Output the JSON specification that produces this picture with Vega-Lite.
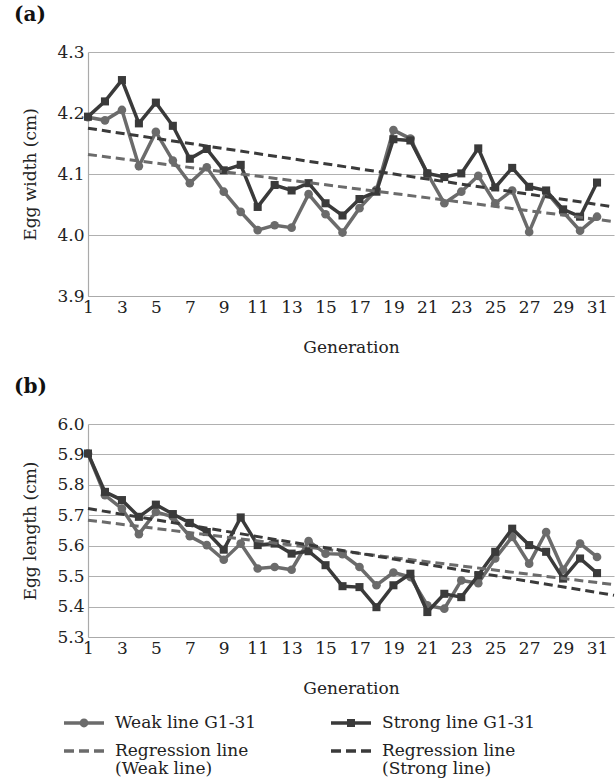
{
  "$schema": "https://vega.github.io/schema/vega-lite/v6.json",
  "background": "white",
  "padding": {"left": 13, "right": 2, "top": 5, "bottom": 2},
  "config": {
    "font": "DejaVu Serif",
    "view": {"stroke": null},
    "axis": {"labelFont": "DejaVu Serif", "titleFont": "DejaVu Serif", "labelFontSize": 17, "titleFontSize": 17, "labelColor": "#222", "titleColor": "#222", "titleFontWeight": "normal", "ticks": false, "domainColor": "#aaaaaa", "gridColor": "#b0b0b0", "domainWidth": 1.2, "gridWidth": 1.2},
    "title": {"font": "DejaVu Serif", "fontSize": 20, "fontWeight": "bold", "anchor": "start", "color": "#111"},
    "legend": {"labelFont": "DejaVu Serif", "labelFontSize": 17, "labelColor": "#222"}
  },
  "datasets": {
    "d": [
      {"p":"a","s":"Strong line G1-31","g":1,"v":4.194},{"p":"a","s":"Strong line G1-31","g":2,"v":4.219},{"p":"a","s":"Strong line G1-31","g":3,"v":4.254},{"p":"a","s":"Strong line G1-31","g":4,"v":4.183},{"p":"a","s":"Strong line G1-31","g":5,"v":4.217},{"p":"a","s":"Strong line G1-31","g":6,"v":4.179},{"p":"a","s":"Strong line G1-31","g":7,"v":4.125},{"p":"a","s":"Strong line G1-31","g":8,"v":4.141},{"p":"a","s":"Strong line G1-31","g":9,"v":4.106},{"p":"a","s":"Strong line G1-31","g":10,"v":4.115},{"p":"a","s":"Strong line G1-31","g":11,"v":4.046},{"p":"a","s":"Strong line G1-31","g":12,"v":4.082},{"p":"a","s":"Strong line G1-31","g":13,"v":4.073},{"p":"a","s":"Strong line G1-31","g":14,"v":4.085},{"p":"a","s":"Strong line G1-31","g":15,"v":4.052},{"p":"a","s":"Strong line G1-31","g":16,"v":4.032},{"p":"a","s":"Strong line G1-31","g":17,"v":4.059},{"p":"a","s":"Strong line G1-31","g":18,"v":4.071},{"p":"a","s":"Strong line G1-31","g":19,"v":4.157},{"p":"a","s":"Strong line G1-31","g":20,"v":4.155},{"p":"a","s":"Strong line G1-31","g":21,"v":4.101},{"p":"a","s":"Strong line G1-31","g":22,"v":4.095},{"p":"a","s":"Strong line G1-31","g":23,"v":4.101},{"p":"a","s":"Strong line G1-31","g":24,"v":4.142},{"p":"a","s":"Strong line G1-31","g":25,"v":4.078},{"p":"a","s":"Strong line G1-31","g":26,"v":4.110},{"p":"a","s":"Strong line G1-31","g":27,"v":4.079},{"p":"a","s":"Strong line G1-31","g":28,"v":4.073},{"p":"a","s":"Strong line G1-31","g":29,"v":4.042},{"p":"a","s":"Strong line G1-31","g":30,"v":4.030},{"p":"a","s":"Strong line G1-31","g":31,"v":4.086},
      {"p":"a","s":"Weak line G1-31","g":1,"v":4.193},{"p":"a","s":"Weak line G1-31","g":2,"v":4.188},{"p":"a","s":"Weak line G1-31","g":3,"v":4.205},{"p":"a","s":"Weak line G1-31","g":4,"v":4.113},{"p":"a","s":"Weak line G1-31","g":5,"v":4.169},{"p":"a","s":"Weak line G1-31","g":6,"v":4.122},{"p":"a","s":"Weak line G1-31","g":7,"v":4.085},{"p":"a","s":"Weak line G1-31","g":8,"v":4.111},{"p":"a","s":"Weak line G1-31","g":9,"v":4.071},{"p":"a","s":"Weak line G1-31","g":10,"v":4.038},{"p":"a","s":"Weak line G1-31","g":11,"v":4.008},{"p":"a","s":"Weak line G1-31","g":12,"v":4.016},{"p":"a","s":"Weak line G1-31","g":13,"v":4.012},{"p":"a","s":"Weak line G1-31","g":14,"v":4.067},{"p":"a","s":"Weak line G1-31","g":15,"v":4.034},{"p":"a","s":"Weak line G1-31","g":16,"v":4.004},{"p":"a","s":"Weak line G1-31","g":17,"v":4.044},{"p":"a","s":"Weak line G1-31","g":18,"v":4.074},{"p":"a","s":"Weak line G1-31","g":19,"v":4.172},{"p":"a","s":"Weak line G1-31","g":20,"v":4.158},{"p":"a","s":"Weak line G1-31","g":21,"v":4.101},{"p":"a","s":"Weak line G1-31","g":22,"v":4.052},{"p":"a","s":"Weak line G1-31","g":23,"v":4.071},{"p":"a","s":"Weak line G1-31","g":24,"v":4.097},{"p":"a","s":"Weak line G1-31","g":25,"v":4.052},{"p":"a","s":"Weak line G1-31","g":26,"v":4.073},{"p":"a","s":"Weak line G1-31","g":27,"v":4.005},{"p":"a","s":"Weak line G1-31","g":28,"v":4.071},{"p":"a","s":"Weak line G1-31","g":29,"v":4.038},{"p":"a","s":"Weak line G1-31","g":30,"v":4.007},{"p":"a","s":"Weak line G1-31","g":31,"v":4.030},
      {"p":"a","s":"Regression line (Weak line)","g":1,"v":4.132},{"p":"a","s":"Regression line (Weak line)","g":32,"v":4.022},
      {"p":"a","s":"Regression line (Strong line)","g":1,"v":4.175},{"p":"a","s":"Regression line (Strong line)","g":32,"v":4.046},
      {"p":"b","s":"Strong line G1-31","g":1,"v":5.903},{"p":"b","s":"Strong line G1-31","g":2,"v":5.777},{"p":"b","s":"Strong line G1-31","g":3,"v":5.750},{"p":"b","s":"Strong line G1-31","g":4,"v":5.695},{"p":"b","s":"Strong line G1-31","g":5,"v":5.735},{"p":"b","s":"Strong line G1-31","g":6,"v":5.704},{"p":"b","s":"Strong line G1-31","g":7,"v":5.675},{"p":"b","s":"Strong line G1-31","g":8,"v":5.645},{"p":"b","s":"Strong line G1-31","g":9,"v":5.587},{"p":"b","s":"Strong line G1-31","g":10,"v":5.693},{"p":"b","s":"Strong line G1-31","g":11,"v":5.602},{"p":"b","s":"Strong line G1-31","g":12,"v":5.607},{"p":"b","s":"Strong line G1-31","g":13,"v":5.574},{"p":"b","s":"Strong line G1-31","g":14,"v":5.582},{"p":"b","s":"Strong line G1-31","g":15,"v":5.536},{"p":"b","s":"Strong line G1-31","g":16,"v":5.467},{"p":"b","s":"Strong line G1-31","g":17,"v":5.464},{"p":"b","s":"Strong line G1-31","g":18,"v":5.398},{"p":"b","s":"Strong line G1-31","g":19,"v":5.470},{"p":"b","s":"Strong line G1-31","g":20,"v":5.508},{"p":"b","s":"Strong line G1-31","g":21,"v":5.382},{"p":"b","s":"Strong line G1-31","g":22,"v":5.442},{"p":"b","s":"Strong line G1-31","g":23,"v":5.431},{"p":"b","s":"Strong line G1-31","g":24,"v":5.503},{"p":"b","s":"Strong line G1-31","g":25,"v":5.580},{"p":"b","s":"Strong line G1-31","g":26,"v":5.656},{"p":"b","s":"Strong line G1-31","g":27,"v":5.602},{"p":"b","s":"Strong line G1-31","g":28,"v":5.580},{"p":"b","s":"Strong line G1-31","g":29,"v":5.492},{"p":"b","s":"Strong line G1-31","g":30,"v":5.558},{"p":"b","s":"Strong line G1-31","g":31,"v":5.510},
      {"p":"b","s":"Weak line G1-31","g":1,"v":5.903},{"p":"b","s":"Weak line G1-31","g":2,"v":5.766},{"p":"b","s":"Weak line G1-31","g":3,"v":5.722},{"p":"b","s":"Weak line G1-31","g":4,"v":5.638},{"p":"b","s":"Weak line G1-31","g":5,"v":5.711},{"p":"b","s":"Weak line G1-31","g":6,"v":5.695},{"p":"b","s":"Weak line G1-31","g":7,"v":5.631},{"p":"b","s":"Weak line G1-31","g":8,"v":5.602},{"p":"b","s":"Weak line G1-31","g":9,"v":5.554},{"p":"b","s":"Weak line G1-31","g":10,"v":5.607},{"p":"b","s":"Weak line G1-31","g":11,"v":5.525},{"p":"b","s":"Weak line G1-31","g":12,"v":5.530},{"p":"b","s":"Weak line G1-31","g":13,"v":5.521},{"p":"b","s":"Weak line G1-31","g":14,"v":5.615},{"p":"b","s":"Weak line G1-31","g":15,"v":5.574},{"p":"b","s":"Weak line G1-31","g":16,"v":5.572},{"p":"b","s":"Weak line G1-31","g":17,"v":5.530},{"p":"b","s":"Weak line G1-31","g":18,"v":5.470},{"p":"b","s":"Weak line G1-31","g":19,"v":5.512},{"p":"b","s":"Weak line G1-31","g":20,"v":5.497},{"p":"b","s":"Weak line G1-31","g":21,"v":5.404},{"p":"b","s":"Weak line G1-31","g":22,"v":5.393},{"p":"b","s":"Weak line G1-31","g":23,"v":5.486},{"p":"b","s":"Weak line G1-31","g":24,"v":5.477},{"p":"b","s":"Weak line G1-31","g":25,"v":5.558},{"p":"b","s":"Weak line G1-31","g":26,"v":5.629},{"p":"b","s":"Weak line G1-31","g":27,"v":5.541},{"p":"b","s":"Weak line G1-31","g":28,"v":5.645},{"p":"b","s":"Weak line G1-31","g":29,"v":5.521},{"p":"b","s":"Weak line G1-31","g":30,"v":5.607},{"p":"b","s":"Weak line G1-31","g":31,"v":5.563},
      {"p":"b","s":"Regression line (Weak line)","g":1,"v":5.684},{"p":"b","s":"Regression line (Weak line)","g":32,"v":5.472},
      {"p":"b","s":"Regression line (Strong line)","g":1,"v":5.722},{"p":"b","s":"Regression line (Strong line)","g":32,"v":5.437}
    ]
  },
  "spacing": 22,
  "vconcat": [
    {
      "title": {"text": "(a)", "dx": -8, "offset": 18},
      "width": 526,
      "height": 244,
      "data": {"name": "d"},
      "transform": [{"filter": "datum.p == 'a'"}],
      "encoding": {
        "x": {"field": "g", "type": "quantitative", "title": "Generation", "scale": {"domain": [1, 32], "nice": false, "zero": false}, "axis": {"values": [1,3,5,7,9,11,13,15,17,19,21,23,25,27,29,31], "grid": false, "labelPadding": 3, "titlePadding": 24, "labelFlush": false}},
        "y": {"field": "v", "type": "quantitative", "title": "Egg width (cm)", "scale": {"domain": [3.9, 4.3], "nice": false, "zero": false}, "axis": {"values": [3.9, 4.0, 4.1, 4.2, 4.3], "format": ".1f", "labelPadding": 4, "titlePadding": 17}},
        "color": {"field": "s", "type": "nominal", "scale": {"domain": ["Weak line G1-31", "Strong line G1-31", "Regression line (Weak line)", "Regression line (Strong line)"], "range": ["#6b6b6b", "#3a3a3a", "#6b6b6b", "#3a3a3a"]}, "legend": {
            "orient": "bottom", "offset": 7, "title": null, "columns": 2, "columnPadding": 74, "rowPadding": 0, "symbolSize": 1600,
            "labelExpr": "datum.value == 'Regression line (Weak line)' ? ['Regression line', ' (Weak line)'] : datum.value == 'Regression line (Strong line)' ? ['Regression line', ' (Strong line)'] : datum.label",
            "encode": {
              "labels": {"update": {"lineHeight": {"value": 18}, "x": {"value": 27}}},
              "symbols": {"update": {
              "x": {"value": -4},
              "shape": {"signal": "datum.value == 'Weak line G1-31' ? 'M-1,-0.09L1,-0.09L1,0.09L-1,0.09Z M-0.22,0A0.22,0.22,0,1,1,0.22,0A0.22,0.22,0,1,1,-0.22,0Z' : datum.value == 'Strong line G1-31' ? 'M-1,-0.09L1,-0.09L1,0.09L-1,0.09Z M-0.2,-0.2L0.2,-0.2L0.2,0.2L-0.2,0.2Z' : 'M-1,-0.09L-0.5,-0.09L-0.5,0.09L-1,0.09Z M-0.25,-0.09L0.25,-0.09L0.25,0.09L-0.25,0.09Z M0.5,-0.09L1,-0.09L1,0.09L0.5,0.09Z'"},
              "fill": {"signal": "indexof(datum.value, 'Weak') >= 0 ? '#6b6b6b' : '#3a3a3a'"},
              "stroke": {"value": "transparent"},
              "strokeWidth": {"value": 0},
              "opacity": {"value": 1}
            }}}
         }}
      },
      "layer": [
        {"transform": [{"filter": "datum.s == 'Weak line G1-31'"}], "mark": {"type": "line", "strokeWidth": 3.5}, "encoding": {}},
        {"transform": [{"filter": "datum.s == 'Weak line G1-31'"}], "mark": {"type": "point", "shape": "circle", "filled": true, "size": 75, "opacity": 1}, "encoding": {}},
        {"transform": [{"filter": "datum.s == 'Strong line G1-31'"}], "mark": {"type": "line", "strokeWidth": 3.5}, "encoding": {}},
        {"transform": [{"filter": "datum.s == 'Strong line G1-31'"}], "mark": {"type": "point", "shape": "square", "filled": true, "size": 65, "opacity": 1}, "encoding": {}},
        {"transform": [{"filter": "indexof(datum.s, 'Regression') == 0"}], "mark": {"type": "line", "strokeWidth": 3, "strokeDash": [9, 5]}, "encoding": {}}
      ]
    },
    {
      "title": {"text": "(b)", "dx": -8, "offset": 18},
      "width": 526,
      "height": 213,
      "data": {"name": "d"},
      "transform": [{"filter": "datum.p == 'b'"}],
      "encoding": {
        "x": {"field": "g", "type": "quantitative", "title": "Generation", "scale": {"domain": [1, 32], "nice": false, "zero": false}, "axis": {"values": [1,3,5,7,9,11,13,15,17,19,21,23,25,27,29,31], "grid": false, "labelPadding": 3, "titlePadding": 24, "labelFlush": false}},
        "y": {"field": "v", "type": "quantitative", "title": "Egg length (cm)", "scale": {"domain": [5.3, 6.0], "nice": false, "zero": false}, "axis": {"values": [5.3, 5.4, 5.5, 5.6, 5.7, 5.8, 5.9, 6.0], "format": ".1f", "labelPadding": 4, "titlePadding": 17}},
        "color": {"field": "s", "type": "nominal", "scale": {"domain": ["Weak line G1-31", "Strong line G1-31", "Regression line (Weak line)", "Regression line (Strong line)"], "range": ["#6b6b6b", "#3a3a3a", "#6b6b6b", "#3a3a3a"]}}
      },
      "layer": [
        {"transform": [{"filter": "datum.s == 'Weak line G1-31'"}], "mark": {"type": "line", "strokeWidth": 3.5}, "encoding": {}},
        {"transform": [{"filter": "datum.s == 'Weak line G1-31'"}], "mark": {"type": "point", "shape": "circle", "filled": true, "size": 75, "opacity": 1}, "encoding": {}},
        {"transform": [{"filter": "datum.s == 'Strong line G1-31'"}], "mark": {"type": "line", "strokeWidth": 3.5}, "encoding": {}},
        {"transform": [{"filter": "datum.s == 'Strong line G1-31'"}], "mark": {"type": "point", "shape": "square", "filled": true, "size": 65, "opacity": 1}, "encoding": {}},
        {"transform": [{"filter": "indexof(datum.s, 'Regression') == 0"}], "mark": {"type": "line", "strokeWidth": 3, "strokeDash": [9, 5]}, "encoding": {}}
      ]
    }
  ]
}
